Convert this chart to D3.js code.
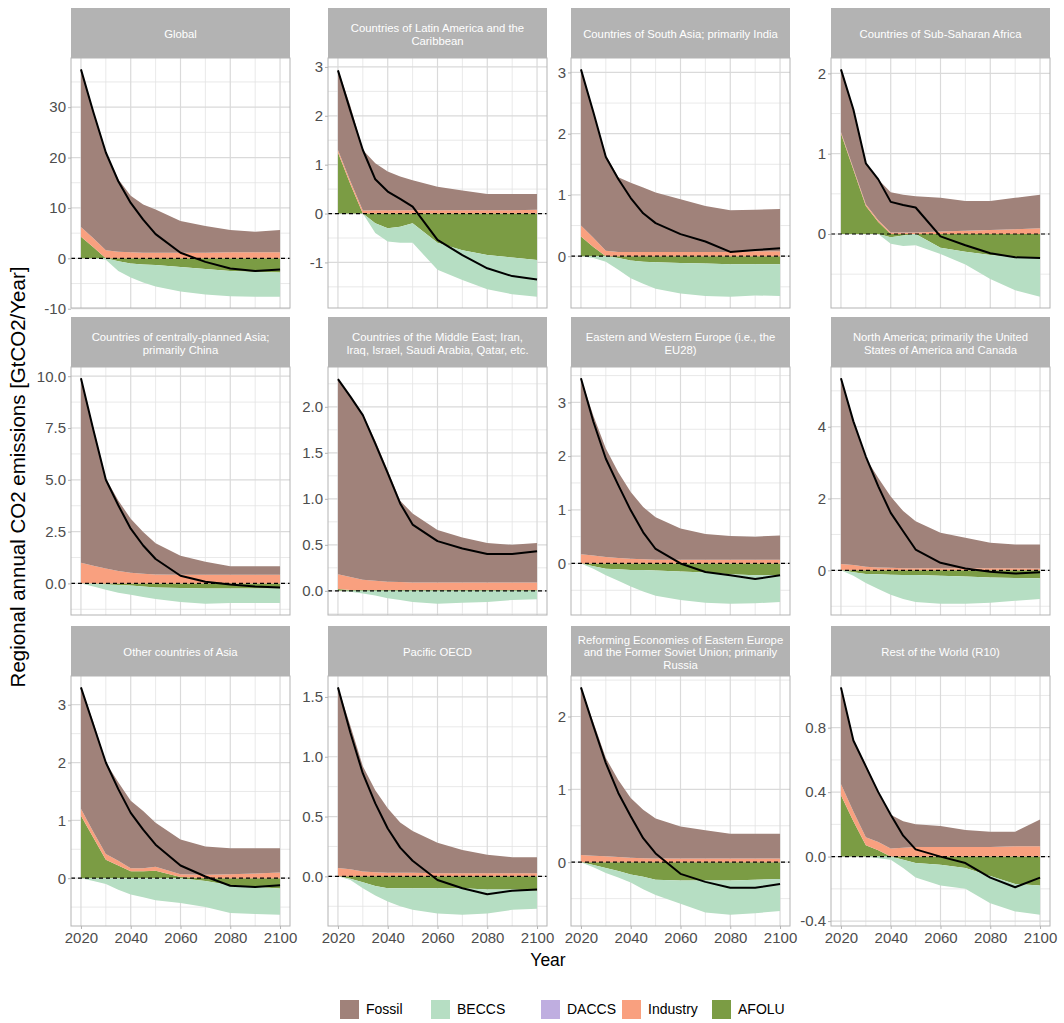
<!DOCTYPE html>
<html>
<head>
<meta charset="utf-8">
<script src="https://cdn.jsdelivr.net/npm/d3@7"></script>
<style>
	body { margin: 0; background: #fff; }
	svg text { font-family: "Liberation Sans", Arial, sans-serif; }
</style>
</head>
<body>
<div id="chart"></div>
<script>

///////////////////////////////////////////////////////////////////////
// data

const years = [ 2020, 2025, 2030, 2035, 2040, 2045, 2050, 2060, 2070, 2080, 2090, 2100 ];

const regions = [
	"Global",
	"Countries of Latin America and the\nCaribbean",
	"Countries of South Asia; primarily India",
	"Countries of Sub-Saharan Africa",
	"Countries of centrally-planned Asia;\nprimarily China",
	"Countries of the Middle East; Iran,\nIraq, Israel, Saudi Arabia, Qatar, etc.",
	"Eastern and Western Europe (i.e., the\nEU28)",
	"North America; primarily the United\nStates of America and Canada",
	"Other countries of Asia",
	"Pacific OECD",
	"Reforming Economies of Eastern Europe\nand the Former Soviet Union; primarily\nRussia",
	"Rest of the World (R10)"
];

const fossil = [
	[ 31.3, 25.0, 19.4, 14.4, 11.2, 9.6, 8.6, 6.3, 5.3, 4.4, 4.1, 4.4 ],
	[ 1.65, 1.54, 1.24, 0.96, 0.79, 0.69, 0.61, 0.48, 0.40, 0.33, 0.33, 0.32 ],
	[ 2.55, 2.06, 1.56, 1.22, 1.13, 1.05, 0.97, 0.86, 0.75, 0.68, 0.68, 0.69 ],
	[ 0.78, 0.73, 0.51, 0.51, 0.50, 0.47, 0.45, 0.42, 0.37, 0.36, 0.39, 0.42 ],
	[ 8.9, 6.65, 4.34, 3.4, 2.6, 2.01, 1.51, 0.92, 0.63, 0.41, 0.41, 0.41 ],
	[ 2.13, 1.96, 1.8, 1.52, 1.21, 0.885, 0.75, 0.57, 0.49, 0.43, 0.41, 0.43 ],
	[ 3.28, 2.6, 2.02, 1.6, 1.24, 0.97, 0.79, 0.58, 0.48, 0.44, 0.43, 0.45 ],
	[ 5.17, 4.0, 3.03, 2.49, 1.99, 1.59, 1.31, 0.99, 0.85, 0.71, 0.66, 0.67 ],
	[ 2.1, 1.9, 1.58, 1.36, 1.17, 0.99, 0.76, 0.6, 0.49, 0.45, 0.44, 0.42 ],
	[ 1.51, 1.2, 0.88, 0.685, 0.54, 0.42, 0.35, 0.255, 0.195, 0.155, 0.135, 0.135 ],
	[ 2.3, 1.83, 1.35, 1.06, 0.82, 0.665, 0.55, 0.44, 0.39, 0.34, 0.34, 0.34 ],
	[ 0.6, 0.44, 0.45, 0.31, 0.21, 0.165, 0.14, 0.13, 0.105, 0.095, 0.09, 0.165 ]
];

const industry = [
	[ 1.9, 1.8, 1.6, 1.3, 1.2, 1.1, 1.1, 1.1, 1.1, 1.2, 1.2, 1.2 ],
	[ 0.05, 0.06, 0.06, 0.07, 0.07, 0.07, 0.07, 0.07, 0.07, 0.07, 0.07, 0.08 ],
	[ 0.18, 0.15, 0.09, 0.07, 0.07, 0.07, 0.07, 0.07, 0.07, 0.07, 0.08, 0.08 ],
	[ 0.02, 0.02, 0.02, 0.02, 0.02, 0.02, 0.02, 0.03, 0.04, 0.05, 0.06, 0.07 ],
	[ 1.0, 0.85, 0.72, 0.6, 0.52, 0.47, 0.43, 0.42, 0.42, 0.42, 0.42, 0.42 ],
	[ 0.16, 0.14, 0.11, 0.1, 0.09, 0.085, 0.08, 0.08, 0.08, 0.08, 0.08, 0.08 ],
	[ 0.17, 0.15, 0.12, 0.1, 0.09, 0.08, 0.07, 0.07, 0.07, 0.07, 0.07, 0.07 ],
	[ 0.18, 0.15, 0.1, 0.08, 0.07, 0.06, 0.06, 0.06, 0.06, 0.06, 0.06, 0.05 ],
	[ 0.12, 0.1, 0.1, 0.08, 0.05, 0.05, 0.07, 0.05, 0.06, 0.07, 0.08, 0.1 ],
	[ 0.07, 0.06, 0.04, 0.035, 0.03, 0.03, 0.03, 0.025, 0.025, 0.025, 0.025, 0.025 ],
	[ 0.1, 0.09, 0.08, 0.07, 0.06, 0.055, 0.05, 0.05, 0.05, 0.05, 0.05, 0.05 ],
	[ 0.07, 0.06, 0.05, 0.05, 0.05, 0.055, 0.06, 0.06, 0.06, 0.06, 0.065, 0.065 ]
];

const afolu = [
	[ 4.3, 2.2, 0.0, -0.6, -1.0, -1.2, -1.3, -1.7, -2.1, -2.5, -2.7, -2.8 ],
	[ 1.25, 0.6, 0.0, -0.2, -0.3, -0.27, -0.2, -0.6, -0.75, -0.85, -0.9, -0.95 ],
	[ 0.32, 0.15, 0, -0.03, -0.07, -0.09, -0.1, -0.11, -0.12, -0.13, -0.13, -0.13 ],
	[ 1.25, 0.8, 0.35, 0.15, -0.04, -0.02, 0, -0.17, -0.22, -0.26, -0.29, -0.3 ],
	[ 0, -0.02, -0.05, -0.08, -0.1, -0.15, -0.2, -0.22, -0.25, -0.25, -0.25, -0.25 ],
	[ 0.02, 0.01, 0.01, 0.01, 0.01, 0.01, 0.01, 0.01, 0.01, 0.01, 0.01, 0.01 ],
	[ 0, -0.05, -0.1, -0.11, -0.12, -0.12, -0.13, -0.15, -0.17, -0.2, -0.22, -0.22 ],
	[ 0, -0.05, -0.1, -0.11, -0.12, -0.13, -0.13, -0.15, -0.17, -0.2, -0.21, -0.22 ],
	[ 1.08, 0.7, 0.32, 0.22, 0.12, 0.12, 0.13, 0.02, -0.05, -0.12, -0.15, -0.18 ],
	[ 0, -0.02, -0.05, -0.08, -0.1, -0.1, -0.1, -0.1, -0.1, -0.11, -0.11, -0.12 ],
	[ 0, -0.04, -0.08, -0.12, -0.17, -0.2, -0.24, -0.25, -0.25, -0.25, -0.24, -0.23 ],
	[ 0.38, 0.22, 0.07, 0.04, 0.0, -0.02, -0.04, -0.05, -0.07, -0.12, -0.17, -0.18 ]
];

const beccs = [
	[ 0, 0, -0.3, -1.9, -2.8, -3.6, -4.3, -4.9, -5.1, -5.0, -4.9, -4.8 ],
	[ 0, 0, 0, -0.2, -0.27, -0.33, -0.4, -0.55, -0.61, -0.7, -0.75, -0.75 ],
	[ 0, -0.03, -0.09, -0.19, -0.29, -0.36, -0.43, -0.5, -0.53, -0.53, -0.51, -0.52 ],
	[ 0, 0, 0, 0, -0.08, -0.13, -0.14, -0.08, -0.16, -0.3, -0.41, -0.48 ],
	[ 0, -0.13, -0.25, -0.37, -0.45, -0.5, -0.55, -0.68, -0.73, -0.7, -0.7, -0.7 ],
	[ 0, -0.01, -0.03, -0.05, -0.08, -0.1, -0.12, -0.14, -0.13, -0.12, -0.1, -0.09 ],
	[ 0, -0.05, -0.12, -0.21, -0.31, -0.4, -0.47, -0.53, -0.56, -0.55, -0.52, -0.5 ],
	[ 0, -0.1, -0.25, -0.41, -0.56, -0.67, -0.75, -0.78, -0.76, -0.7, -0.64, -0.58 ],
	[ 0, -0.05, -0.1, -0.2, -0.28, -0.33, -0.38, -0.43, -0.45, -0.48, -0.47, -0.45 ],
	[ 0, -0.01, -0.05, -0.08, -0.11, -0.15, -0.18, -0.21, -0.22, -0.2, -0.17, -0.15 ],
	[ 0, -0.03, -0.07, -0.09, -0.11, -0.17, -0.21, -0.32, -0.44, -0.47, -0.46, -0.44 ],
	[ 0, 0, 0, -0.01, -0.02, -0.05, -0.09, -0.13, -0.13, -0.17, -0.17, -0.18 ]
];

const net = [
	[ 37.5, 29.0, 21.0, 15.3, 11.0, 7.7, 4.8, 1.1, -0.7, -2.0, -2.5, -2.2 ],
	[ 2.93, 2.1, 1.3, 0.7, 0.45, 0.3, 0.14, -0.54, -0.85, -1.12, -1.28, -1.35 ],
	[ 3.05, 2.35, 1.62, 1.26, 0.95, 0.7, 0.54, 0.36, 0.24, 0.07, 0.1, 0.13 ],
	[ 2.05, 1.55, 0.88, 0.68, 0.4, 0.36, 0.33, -0.03, -0.14, -0.24, -0.29, -0.3 ],
	[ 9.9, 7.4, 5.0, 3.77, 2.64, 1.83, 1.18, 0.37, 0.08, -0.05, -0.15, -0.2 ],
	[ 2.3, 2.11, 1.91, 1.6, 1.28, 0.95, 0.72, 0.54, 0.46, 0.4, 0.4, 0.43 ],
	[ 3.45, 2.64, 1.95, 1.46, 0.99, 0.58, 0.27, 0.0, -0.16, -0.22, -0.29, -0.22 ],
	[ 5.35, 4.15, 3.17, 2.34, 1.6, 1.09, 0.58, 0.21, 0.05, -0.04, -0.09, -0.05 ],
	[ 3.3, 2.65, 2.0, 1.54, 1.13, 0.84, 0.58, 0.22, 0.03, -0.13, -0.15, -0.12 ],
	[ 1.58, 1.2, 0.86, 0.61, 0.4, 0.24, 0.13, -0.03, -0.1, -0.15, -0.12, -0.11 ],
	[ 2.4, 1.87, 1.36, 0.95, 0.63, 0.33, 0.12, -0.16, -0.27, -0.35, -0.35, -0.3 ],
	[ 1.05, 0.72, 0.56, 0.4, 0.26, 0.13, 0.045, 0.0, -0.04, -0.13, -0.19, -0.13 ]
];

const y_ticks = [
	[ -10, 0, 10, 20, 30 ],
	[ -1, 0, 1, 2, 3 ],
	[ 0, 1, 2, 3 ],
	[ 0, 1, 2 ],
	[ 0, 2.5, 5, 7.5, 10 ],
	[ 0, 0.5, 1, 1.5, 2 ],
	[ 0, 1, 2, 3 ],
	[ 0, 2, 4 ],
	[ 0, 1, 2, 3 ],
	[ 0, 0.5, 1, 1.5 ],
	[ 0, 1, 2 ],
	[ -0.4, 0, 0.4, 0.8 ]
];

const x_ticks = [ 2020, 2040, 2060, 2080, 2100 ];

const legend_keys = [ "Fossil", "BECCS", "DACCS", "Industry", "AFOLU" ];
const legend_colors = [ "#a0827a", "#b6dec3", "#bfaee0", "#f9a07f", "#7b9c44" ];

///////////////////////////////////////////////////////////////////////

const W = 1064, H = 1023;
const col_x = [ 71, 328, 571, 831 ];
const row_y = [ 8, 317, 626 ];
const panel_w = 219, strip_h = 50;
const panel_h = [ 250, 248, 250 ];

const color_of = {};
legend_keys.forEach( ( k, i ) => color_of[ k ] = legend_colors[ i ] );

let svg = d3.select( "#chart" )
	.append( "svg" )
		.attr( "width", W )
		.attr( "height", H );

function decimals( v )	{

	let s = String( v );
	let p = s.indexOf( "." );
	return p < 0 ? 0 : s.length - p - 1;
}

function draw_panel( i )	{

	let c = i % 4, r = Math.floor( i / 4 );
	let x0 = col_x[ c ], y0 = row_y[ r ] + strip_h, h = panel_h[ r ];

	let rows = years.map( ( yr, j ) => ( {
		year: yr,
		afolu: afolu[ i ][ j ],
		industry: industry[ i ][ j ],
		beccs: beccs[ i ][ j ],
		fossil: fossil[ i ][ j ]
	} ) );

	let series = d3.stack()
		.keys( [ "afolu", "industry", "beccs", "fossil" ] )
		.offset( d3.stackOffsetDiverging )( rows );

	let lo = d3.min( [ d3.min( series, s => d3.min( s, d => d[ 0 ] ) ), d3.min( net[ i ] ) ] );
	let hi = d3.max( [ d3.max( series, s => d3.max( s, d => d[ 1 ] ) ), d3.max( net[ i ] ) ] );
	let pad = ( hi - lo ) * 0.05;

	let y = d3.scaleLinear()
		.domain( [ lo - pad, hi + pad ] )
		.range( [ y0 + h, y0 ] );

	let xpad = ( d3.max( years ) - d3.min( years ) ) * 0.05;
	let x = d3.scaleLinear()
		.domain( [ d3.min( years ) - xpad, d3.max( years ) + xpad ] )
		.range( [ x0, x0 + panel_w ] );

	let g = svg.append( "g" );

	// grid
	let ticks = y_ticks[ i ];
	let step = ticks[ 1 ] - ticks[ 0 ];
	let minor = [];
	for( let k = -1; k < ticks.length; k++ )	{
		let v = ticks[ 0 ] + ( k + 0.5 ) * step;
		if( v > y.domain()[ 0 ] && v < y.domain()[ 1 ] ) minor.push( v );
	}
	let x_minor = [ 2030, 2050, 2070, 2090 ];

	g.selectAll( ".ymin" ).data( minor ).join( "line" )
		.attr( "x1", x0 ).attr( "x2", x0 + panel_w )
		.attr( "y1", d => y( d ) ).attr( "y2", d => y( d ) )
		.attr( "stroke", "#e3e3e3" ).attr( "stroke-width", 0.8 );
	g.selectAll( ".xmin" ).data( x_minor ).join( "line" )
		.attr( "y1", y0 ).attr( "y2", y0 + h )
		.attr( "x1", d => x( d ) ).attr( "x2", d => x( d ) )
		.attr( "stroke", "#e3e3e3" ).attr( "stroke-width", 0.8 );
	g.selectAll( ".ymaj" ).data( ticks ).join( "line" )
		.attr( "x1", x0 ).attr( "x2", x0 + panel_w )
		.attr( "y1", d => y( d ) ).attr( "y2", d => y( d ) )
		.attr( "stroke", "#dadada" ).attr( "stroke-width", 1.2 );
	g.selectAll( ".xmaj" ).data( x_ticks ).join( "line" )
		.attr( "y1", y0 ).attr( "y2", y0 + h )
		.attr( "x1", d => x( d ) ).attr( "x2", d => x( d ) )
		.attr( "stroke", "#dadada" ).attr( "stroke-width", 1.2 );

	// stacked areas
	let area = d3.area()
		.x( d => x( d.data.year ) )
		.y0( d => y( d[ 0 ] ) )
		.y1( d => y( d[ 1 ] ) );

	let names = { afolu: "AFOLU", industry: "Industry", beccs: "BECCS", fossil: "Fossil" };

	g.selectAll( ".area" ).data( series ).join( "path" )
		.attr( "d", area )
		.attr( "fill", s => color_of[ names[ s.key ] ] );

	// zero line
	g.append( "line" )
		.attr( "x1", x0 ).attr( "x2", x0 + panel_w )
		.attr( "y1", y( 0 ) ).attr( "y2", y( 0 ) )
		.attr( "stroke", "#000" )
		.attr( "stroke-width", 1.2 )
		.attr( "stroke-dasharray", "4,3" );

	// net line
	let line = d3.line()
		.x( ( d, j ) => x( years[ j ] ) )
		.y( d => y( d ) );

	g.append( "path" )
		.attr( "d", line( net[ i ] ) )
		.attr( "fill", "none" )
		.attr( "stroke", "#000" )
		.attr( "stroke-width", 2 )
		.attr( "stroke-linejoin", "round" );

	// border
	g.append( "rect" )
		.attr( "x", x0 ).attr( "y", y0 )
		.attr( "width", panel_w ).attr( "height", h )
		.attr( "fill", "none" )
		.attr( "stroke", "#b3b3b3" )
		.attr( "stroke-width", 1 );

	// y axis
	let dp = d3.max( ticks, decimals );
	let ya = g.append( "g" )
		.attr( "transform", "translate(" + x0 + ",0)" )
		.call( d3.axisLeft( y ).tickValues( ticks ).tickSize( 3 ).tickPadding( 2 )
			.tickFormat( d => d.toFixed( dp ) ) );
	style_axis( ya );

	// x axis, bottom row only
	if( r == 2 )	{
		let xa = g.append( "g" )
			.attr( "transform", "translate(0," + ( y0 + h ) + ")" )
			.call( d3.axisBottom( x ).tickValues( x_ticks ).tickSize( 3 ).tickPadding( 3 )
				.tickFormat( d3.format( "d" ) ) );
		style_axis( xa );
	}

	// strip
	g.append( "rect" )
		.attr( "x", x0 ).attr( "y", row_y[ r ] )
		.attr( "width", panel_w ).attr( "height", strip_h )
		.attr( "fill", "#b3b3b3" );

	let lines = regions[ i ].split( "\n" );
	let lh = 12.8;
	let cy = row_y[ r ] + strip_h / 2 + 1.5;
	g.append( "text" )
		.attr( "text-anchor", "middle" )
		.attr( "fill", "#fff" )
		.attr( "font-size", "11.3px" )
		.selectAll( "tspan" ).data( lines ).join( "tspan" )
			.attr( "x", x0 + panel_w / 2 )
			.attr( "y", ( d, k ) => cy + ( k - ( lines.length - 1 ) / 2 ) * lh )
			.attr( "dy", "0.35em" )
			.text( d => d );
}

function style_axis( a )	{

	a.select( ".domain" ).remove();
	a.selectAll( ".tick line" ).attr( "stroke", "#b3b3b3" );
	a.selectAll( ".tick text" )
		.attr( "fill", "#4d4d4d" )
		.attr( "font-size", "15px" )
		.attr( "font-family", "\"Liberation Sans\", Arial, sans-serif" );
}

for( let i=0; i< regions.length; i++ )	{
	draw_panel( i );
}

///////////////////////////////////////////////////////////////////////
// titles

svg.append( "text" )
	.attr( "transform", "translate(25,477) rotate(-90)" )
	.attr( "text-anchor", "middle" )
	.attr( "font-size", "20.5px" )
	.attr( "fill", "#000" )
	.text( "Regional annual CO2 emissions [GtCO2/Year]" );

svg.append( "text" )
	.attr( "x", 548 ).attr( "y", 966 )
	.attr( "text-anchor", "middle" )
	.attr( "font-size", "17.5px" )
	.attr( "fill", "#000" )
	.text( "Year" );

// legend
let lg = svg.append( "g" );
let lx = [ 340, 431, 541, 622, 712 ];
let ly = 1000;
legend_keys.forEach( ( k, i ) => {
	lg.append( "rect" )
		.attr( "x", lx[ i ] ).attr( "y", ly )
		.attr( "width", 19 ).attr( "height", 19 )
		.attr( "fill", legend_colors[ i ] );
	lg.append( "text" )
		.attr( "x", lx[ i ] + 26 ).attr( "y", ly + 9.5 )
		.attr( "dy", "0.35em" )
		.attr( "font-size", "14px" )
		.attr( "fill", "#000" )
		.text( k );
} );

</script>
</body>
</html>
